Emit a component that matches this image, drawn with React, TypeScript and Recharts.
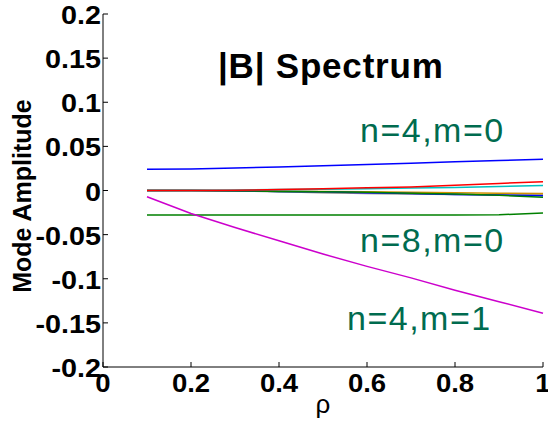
import React from 'react';
import { LineChart, Line, XAxis, YAxis } from 'recharts';

const rho = [0.1, 0.2, 0.3, 0.4, 0.5, 0.6, 0.7, 0.8, 0.9, 1.0];

// n=4,m=0
const n4m0 = [0.024, 0.0245, 0.0255, 0.0265, 0.028, 0.0295, 0.031, 0.0325, 0.034, 0.0354];
// n=8,m=0
const n8m0 = [-0.0278, -0.0278, -0.0278, -0.0278, -0.0278, -0.0278, -0.0278, -0.0278, -0.0275, -0.0255];
// n=4,m=1
const n4m1 = [-0.007, -0.026, -0.042, -0.057, -0.072, -0.086, -0.099, -0.113, -0.126, -0.139];
const redMode = [0, 0, 0.0003, 0.001, 0.002, 0.003, 0.004, 0.006, 0.008, 0.01];
const cyanMode = [0, 0, 0.0005, 0.001, 0.0015, 0.002, 0.0027, 0.0035, 0.0045, 0.0057];
const greyMode = [0, 0, -0.0005, -0.0015, -0.0025, -0.0035, -0.004, -0.0045, -0.005, -0.005];
const greenMode = [0, 0, -0.0003, -0.001, -0.0015, -0.002, -0.003, -0.004, -0.0055, -0.0077];
const blueMode = [0, 0, -0.0003, -0.001, -0.0015, -0.0025, -0.0035, -0.0045, -0.0052, -0.006];
const yellowMode = [0, 0, -0.0002, -0.0006, -0.001, -0.0015, -0.002, -0.0025, -0.003, -0.0035];

const xTicks = [0, 0.2, 0.4, 0.6, 0.8, 1];
const yTicks = [-0.2, -0.15, -0.1, -0.05, 0, 0.05, 0.1, 0.15, 0.2];

const data = rho.map((r, i) => ({
  rho: r,
  n4m0: n4m0[i],
  n8m0: n8m0[i],
  n4m1: n4m1[i],
  red: redMode[i],
  cyan: cyanMode[i],
  grey: greyMode[i],
  green: greenMode[i],
  blue: blueMode[i],
  yellow: yellowMode[i],
}));

const series = [
  { key: 'grey', color: '#808080' },
  { key: 'yellow', color: '#d09000' },
  { key: 'blue', color: '#0000ff' },
  { key: 'green', color: '#008000' },
  { key: 'cyan', color: '#00c0c0' },
  { key: 'red', color: '#ff0000' },
  { key: 'n4m0', color: '#0000ff' },
  { key: 'n8m0', color: '#008000' },
  { key: 'n4m1', color: '#cc00cc' },
];

const FONT = 'Arial, "Liberation Sans", sans-serif';
const noLabel = () => '';

// tick glyphs in the source are a little wider than plain Arial bold
const XTick = (props: any) => {
  const { x, y, payload } = props;
  return (
    <text transform={`translate(${x},${y + 10}) scale(1.1,1)`} dy={18} textAnchor="middle"
      fontSize={25} fontWeight="bold" fontFamily={FONT} fill="#000">
      {String(payload.value)}
    </text>
  );
};

const YTick = (props: any) => {
  const { y, payload } = props;
  return (
    <text transform={`translate(101,${y}) scale(1.15,1)`} dy={10} textAnchor="end"
      fontSize={25} fontWeight="bold" fontFamily={FONT} fill="#000">
      {String(payload.value)}
    </text>
  );
};

export default function App() {
  return (
    <div style={{ position: 'absolute', left: 0, top: 0, width: 548, height: 433, background: '#fff' }}>
      <LineChart width={548} height={433} data={data} margin={{ top: 14, right: 5, left: 0, bottom: 0 }}>
        <XAxis
          dataKey="rho"
          type="number"
          domain={[0, 1]}
          ticks={xTicks}
          tick={<XTick />}
          stroke="#000"
          tickSize={-5}
          height={66}
        />
        <XAxis xAxisId="top" orientation="top" type="number" domain={[0, 1]} ticks={xTicks}
          tickFormatter={noLabel} stroke="#000" tickSize={-5} height={0} />
        <YAxis
          type="number"
          domain={[-0.2, 0.2]}
          ticks={yTicks}
          tick={<YTick />}
          stroke="#000"
          tickSize={-5}
          width={103}
        />
        <YAxis yAxisId="right" orientation="right" type="number" domain={[-0.2, 0.2]} ticks={yTicks}
          tickFormatter={noLabel} stroke="#000" tickSize={-5} width={0} />
        {series.map((s) => (
          <Line key={s.key} dataKey={s.key} stroke={s.color} strokeWidth={1.5} dot={false} isAnimationActive={false} type="linear" />
        ))}
      </LineChart>
      <svg width={548} height={433} style={{ position: 'absolute', left: 0, top: 0, pointerEvents: 'none' }}
        fontFamily={FONT}>
        <text x={218} y={78} fontSize={35} fontWeight="bold" letterSpacing={0.8} fill="#000">|B| Spectrum</text>
        <text x={360} y={142} fontSize={34} letterSpacing={1.5} fill="#006b4f">n=4,m=0</text>
        <text x={360} y={252} fontSize={34} letterSpacing={1.5} fill="#006b4f">n=8,m=0</text>
        <text x={347} y={330} fontSize={34} letterSpacing={1.5} fill="#006b4f">n=4,m=1</text>
        <text x={323} y={413} fontSize={26} textAnchor="middle" fill="#000">ρ</text>
        <text x={0} y={0} transform="translate(31,196) rotate(-90)" fontSize={25} fontWeight="bold" textAnchor="middle" fill="#000">Mode Amplitude</text>
      </svg>
    </div>
  );
}
